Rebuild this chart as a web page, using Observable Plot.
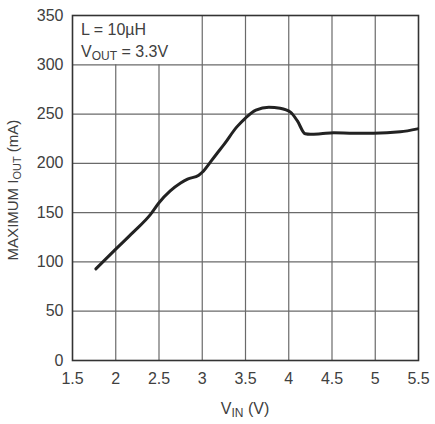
<!DOCTYPE html>
<html>
<head>
<meta charset="utf-8">
<script src="https://cdn.jsdelivr.net/npm/d3@7"></script>
<script src="https://cdn.jsdelivr.net/npm/@observablehq/plot@0.6"></script>
<style>
  html, body { margin: 0; padding: 0; background: #fff; }
  #chart svg { display: block; }
</style>
</head>
<body>
<div id="chart"></div>
<script>
// Data
const vin  = [1.77, 2.0, 2.2, 2.4, 2.5, 2.63, 2.75, 2.83, 2.96, 3.0, 3.1, 3.17, 3.25, 3.4, 3.5, 3.62, 3.77, 3.9, 4.02, 4.1, 4.19, 4.25, 4.37, 4.52, 4.75, 4.98, 5.29, 5.49];
const iout = [93, 113, 130, 148, 160, 172, 180, 184, 188, 191, 202, 210, 219, 237, 246, 254, 257, 256, 252, 243, 230, 229.5, 230, 231, 230.5, 230.5, 232, 235];
const xTicks = [1.5, 2, 2.5, 3, 3.5, 4, 4.5, 5, 5.5];
const yTicks = [0, 50, 100, 150, 200, 250, 300, 350];
// legend box region (grid hidden inside)
const boxXMax = 3, boxYMin = 300;

const data = vin.map((v, i) => ({vin: v, iout: iout[i]}));
const xGrid = xTicks.slice(1, -1).map(x => ({x, y2: x < boxXMax ? boxYMin : 350}));
const yGrid = yTicks.slice(1, -1);

const font = "'Liberation Sans', Arial, Helvetica, sans-serif";
const W = 435, H = 424;
const mL = 72, mR = 17, mT = 15, mB = 64;
const textColor = "#404040";

const svg = Plot.plot({
  width: W, height: H,
  marginLeft: mL, marginRight: mR, marginTop: mT, marginBottom: mB,
  style: {fontFamily: font, fontSize: "16px", color: textColor, background: "#fff"},
  x: {domain: [1.5, 5.5]},
  y: {domain: [0, 350]},
  marks: [
    Plot.ruleX(xGrid, {x: "x", y1: 0, y2: "y2", stroke: "#6a6a6a", strokeWidth: 1.2, strokeOpacity: 1}),
    Plot.ruleY(yGrid, {y: d => d, stroke: "#6a6a6a", strokeWidth: 1.2, strokeOpacity: 1}),
    Plot.frame({stroke: "#333", strokeWidth: 1.6}),
    Plot.line(data, {x: "vin", y: "iout", stroke: "#222", strokeWidth: 3, curve: "monotone-x", strokeLinecap: "round"}),
    Plot.axisX({ticks: xTicks, tickSize: 0, tickPadding: 12, tickFormat: d => String(d), label: null, fontSize: 16, fill: textColor}),
    Plot.axisY({ticks: yTicks, tickSize: 0, tickPadding: 9, tickFormat: d => String(d), label: null, fontSize: 16, fill: textColor})
  ]
});

document.getElementById("chart").appendChild(svg);

// Rich text labels with subscripts
const s = d3.select(svg);
function addText(x, y, parts, opts = {}) {
  const fs = opts.size || 16;
  const t = s.append("text")
    .attr("x", x).attr("y", y)
    .attr("fill", textColor)
    .attr("font-family", font)
    .attr("font-size", fs)
    .attr("text-anchor", opts.anchor || "start");
  if (opts.rotate) t.attr("transform", `rotate(${opts.rotate} ${x} ${y})`);
  parts.forEach(p => {
    const ts = t.append("tspan").text(p.t);
    if (p.sub) ts.attr("font-size", Math.round(fs * 0.75)).attr("dy", 3);
    if (p.back) ts.attr("dy", -3);
  });
  return t;
}
// legend text
addText(81, 35, [{t: "L = 10µH"}]);
addText(81, 57, [{t: "V"}, {t: "OUT", sub: true}, {t: " = 3.3V", back: true}]);
// x label
addText((mL + W - mR) / 2, 414, [{t: "V"}, {t: "IN", sub: true}, {t: " (V)", back: true}], {anchor: "middle"});
// y label
addText(18, 190, [{t: "MAXIMUM I"}, {t: "OUT", sub: true}, {t: " (mA)", back: true}], {anchor: "middle", rotate: -90, size: 15});
</script>
</body>
</html>
